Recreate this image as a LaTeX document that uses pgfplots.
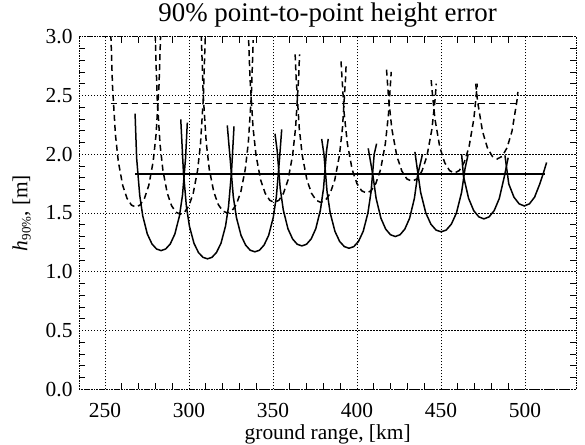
\documentclass[border=0pt]{standalone}
\usepackage{fontspec}
\setmainfont{Liberation Serif}
\usepackage{pgfplots}
\pgfplotsset{compat=1.18}
\begin{document}
\begin{tikzpicture}
\useasboundingbox (-79.3bp,-55.7bp) rectangle (505.7bp,389.3bp);
\begin{axis}[
  at={(0,0)}, anchor=south west,
  scale only axis, width=496.7bp, height=352.6bp,
  xmin=234.7, xmax=530.4, ymin=0, ymax=3,
  xtick={250,300,350,400,450,500}, ytick={0,0.5,1,1.5,2,2.5,3},
  minor x tick num=4, minor y tick num=4,
  tick align=inside, xtick pos=both, ytick pos=both,
  major tick length=0pt, minor tick length=6bp,
  grid=major, major grid style={black, line width=0.8bp, dash pattern=on 1.2bp off 1.8bp},
  axis line style={line width=0.9bp},
  x axis line style={line width=0.9bp, dash pattern=on 1.5bp off 1bp},
  every tick/.style={black, line width=0.8bp},
  /pgf/number format/assume math mode=true,
  yticklabel style={/pgf/number format/fixed, /pgf/number format/fixed zerofill, /pgf/number format/precision=1, anchor=east, inner sep=0pt, xshift=-6.6bp},
  tick label style={font=\fontsize{21.5}{23}\selectfont},
  label style={font=\fontsize{21.5}{23}\selectfont},
  xticklabel style={anchor=base, yshift=-28bp, inner sep=0pt},
  title style={font=\fontsize{27}{29}\selectfont, at={(axis description cs:0.5,1)}, anchor=base, yshift=9.5bp},
  xlabel style={at={(axis description cs:0.5,0)}, anchor=base, yshift=-50.5bp},
  ylabel style={at={([xshift=-52bp]axis description cs:0,0.5)}, anchor=base},
  title={90\% point-to-point height error},
  xlabel={ground range, [km]},
  ylabel={\textit{h}\raisebox{-0.35ex}{\fontsize{13}{13}\selectfont 90\%}, [m]},
  sol/.style={black, line width=1.5bp},
  das/.style={black, line width=1.5bp, dash pattern=on 6bp off 4bp},
]
% horizontal reference lines
\addplot[sol] coordinates {(267.9,1.83) (511.9,1.83)};
\addplot[das, dash pattern=on 6.5bp off 4bp] coordinates {(253.4,2.43) (497,2.43)};
% solid curves
\addplot[sol] coordinates {(267.9,2.346) (268.84,1.967) (270.66,1.652) (272.48,1.475) (275.21,1.321) (277.94,1.237) (280.67,1.194) (283.4,1.18) (286.13,1.194) (288.86,1.237) (291.59,1.321) (294.32,1.475) (296.14,1.652) (297.96,1.967) (299,2.269)};
\addplot[sol] coordinates {(295.1,2.297) (296.68,1.85) (298.47,1.554) (300.26,1.388) (302.95,1.243) (305.63,1.164) (308.32,1.123) (311,1.11) (313.69,1.123) (316.37,1.164) (319.06,1.243) (321.74,1.388) (323.53,1.554) (325.32,1.85) (326.8,2.237)};
\addplot[sol] coordinates {(322.8,2.246) (324.56,1.95) (326.39,1.638) (328.22,1.463) (330.97,1.31) (333.71,1.227) (336.46,1.183) (339.2,1.17) (341.95,1.183) (344.69,1.227) (347.44,1.31) (350.18,1.463) (352.01,1.638) (353.84,1.95) (355.2,2.211)};
\addplot[sol] coordinates {(351.2,2.174) (352.48,2.033) (354.32,1.708) (356.16,1.525) (358.92,1.366) (361.68,1.279) (364.44,1.234) (367.2,1.22) (369.96,1.234) (372.72,1.279) (375.48,1.366) (378.24,1.525) (380.08,1.708) (381.92,2.033) (382.9,2.13)};
\addplot[sol] coordinates {(379,2.13) (380.34,2.0) (382.21,1.68) (384.08,1.5) (386.89,1.344) (389.69,1.258) (392.5,1.214) (395.3,1.2) (398.1,1.214) (400.91,1.258) (403.72,1.344) (406.52,1.5) (408.39,1.68) (410.26,2.0) (411.7,2.09)};
\addplot[sol] coordinates {(406.7,2.05) (409.5,1.82) (411.4,1.625) (414.25,1.456) (417.1,1.363) (419.95,1.315) (422.8,1.3) (425.65,1.315) (428.5,1.363) (431.35,1.456) (434.2,1.625) (436.1,1.82) (439,2.0)};
\addplot[sol] coordinates {(434.5,2.02) (435.89,1.876) (437.92,1.675) (440.97,1.501) (444.01,1.405) (447.06,1.355) (450.1,1.34) (453.15,1.355) (456.19,1.405) (459.24,1.501) (462.28,1.675) (464.31,1.876) (466.2,2.0)};
\addplot[sol] coordinates {(462.3,2.0) (463.42,1.813) (466.47,1.624) (469.51,1.52) (472.56,1.467) (475.6,1.45) (478.65,1.467) (481.69,1.52) (484.74,1.624) (487.78,1.813) (490,1.97)};
\addplot[sol] coordinates {(488.1,1.99) (490.38,1.747) (493.45,1.635) (496.53,1.578) (499.6,1.56) (502.68,1.578) (505.75,1.635) (508.83,1.747) (511,1.84) (512.9,1.93)};
% dashed curves
\addplot[das] coordinates {(253.3,3.1) (254.46,2.583) (256.19,2.17) (257.92,1.938) (260.52,1.736) (263.11,1.625) (265.71,1.568) (268.3,1.55) (270.9,1.568) (273.49,1.625) (276.09,1.736) (278.68,1.938) (280.41,2.17) (282.14,2.583) (283.3,3.1)};
\addplot[das] coordinates {(279.7,3.1) (281.04,2.483) (282.76,2.086) (284.48,1.863) (287.06,1.669) (289.64,1.562) (292.22,1.507) (294.8,1.49) (297.38,1.507) (299.96,1.562) (302.54,1.669) (305.12,1.863) (306.84,2.086) (308.56,2.483) (309.9,3.1)};
\addplot[das] coordinates {(307.14,3.1) (308.48,2.5) (310.27,2.1) (312.06,1.875) (314.75,1.68) (317.43,1.572) (320.12,1.517) (322.8,1.5) (325.49,1.517) (328.17,1.572) (330.86,1.68) (333.54,1.875) (335.33,2.1) (337.12,2.5) (338.25,2.97)};
\addplot[das] coordinates {(335.51,2.97) (336.32,2.65) (338.13,2.226) (339.94,1.988) (342.66,1.781) (345.37,1.667) (348.09,1.608) (350.8,1.59) (353.52,1.608) (356.23,1.667) (358.95,1.781) (361.66,1.988) (363.47,2.226) (365.28,2.65) (365.82,2.85)};
\addplot[das] coordinates {(363.2,2.85) (363.78,2.65) (365.62,2.226) (367.46,1.988) (370.22,1.781) (372.98,1.667) (375.74,1.608) (378.5,1.59) (381.26,1.608) (384.02,1.667) (386.78,1.781) (389.54,1.988) (391.38,2.226) (393.22,2.65) (393.6,2.78)};
\addplot[das] coordinates {(390.5,2.79) (392.44,2.339) (394.32,2.088) (397.14,1.87) (399.96,1.751) (402.78,1.689) (405.6,1.67) (408.42,1.689) (411.24,1.751) (414.06,1.87) (416.88,2.088) (418.76,2.339) (420.4,2.70)};
\addplot[das] coordinates {(417.6,2.72) (418.81,2.479) (420.79,2.213) (423.77,1.982) (426.75,1.856) (429.72,1.79) (432.7,1.77) (435.68,1.79) (438.66,1.856) (441.63,1.982) (444.61,2.213) (446.6,2.479) (447.2,2.6)};
\addplot[das] coordinates {(444.2,2.63) (444.49,2.577) (446.42,2.3) (449.32,2.06) (452.21,1.929) (455.11,1.861) (458,1.84) (460.9,1.861) (463.79,1.929) (466.69,2.06) (469.58,2.3) (471.51,2.577) (471.6,2.6)};
\addplot[das] coordinates {(470.7,2.6) (471.8,2.45) (474.73,2.195) (477.65,2.055) (480.58,1.982) (483.5,1.96) (486.43,1.982) (489.35,2.055) (492.28,2.195) (495.2,2.45) (495.8,2.53)};
\end{axis}
\end{tikzpicture}
\end{document}
